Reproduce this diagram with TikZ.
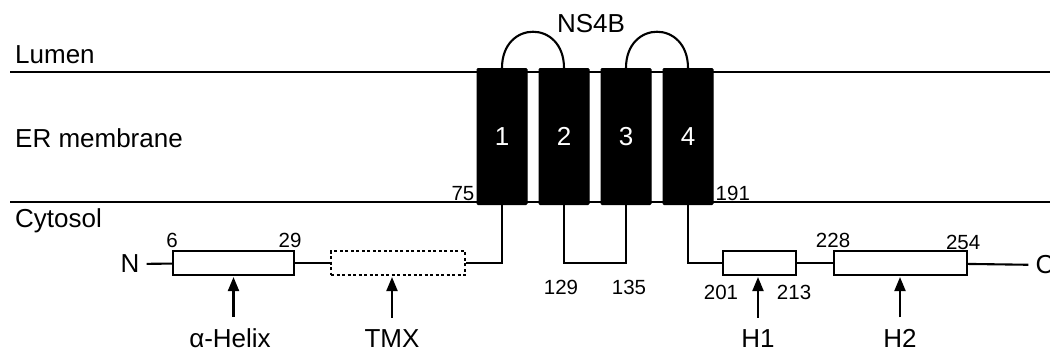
\documentclass[tikz,border=0pt]{standalone}
\usepackage{fontspec}
\setmainfont{Liberation Sans}
\usetikzlibrary{positioning,arrows.meta}

\begin{document}
\begin{tikzpicture}[x=1pt, y=1pt, font=\fontsize{26}{30}\selectfont, node distance=11pt and 11pt,
  membrane/.style={line width=2.6pt},
  tmbox/.style={fill=black, draw=black, line width=1pt, rounded corners=1pt, minimum width=50pt, minimum height=136pt, inner sep=0pt, text=white},
  helix/.style={draw=black, line width=2.1pt, fill=white, minimum height=24pt, inner sep=0pt},
  dashbox/.style={helix, dash pattern=on 3pt off 2.5pt},
  term/.style={inner xsep=7pt, inner ysep=2pt},
  conn/.style={line width=2.1pt},
  arr/.style={-{Triangle[length=14pt,width=11pt]}, line width=2.1pt, shorten <=8pt, shorten >=1pt},
  num/.style={font=\fontsize{20.5}{24}\selectfont, inner sep=2pt},
  region/.style={anchor=base west, inner sep=0pt}]
\useasboundingbox (0,0) rectangle (1050,-351);
% regions of the membrane
\draw[membrane] (10,-72) -- (1050,-72);
\draw[membrane] (10,-202) -- (1050,-202);
\node[region] (lumen) at (15,-63) {Lumen};
\node[region] (er) at (15,-147) {ER membrane};
\node[region] (cyto) at (15,-227) {Cytosol};
% transmembrane segments
\node[tmbox] (tm1) at (502,-136.5) {1};
\node[tmbox, right=of tm1] (tm2) {2};
\node[tmbox, right=of tm2] (tm3) {3};
\node[tmbox, right=of tm3] (tm4) {4};
\node[anchor=base] (ns4b) at (591,-32) {NS4B};
\draw[conn] (tm1.north) to[out=90, in=90, looseness=2] (tm2.north);
\draw[conn] (tm3.north) to[out=90, in=90, looseness=2] (tm4.north);
\node[num, anchor=south east, yshift=2pt] (n75) at (tm1.south west) {75};
\node[num, anchor=south west, yshift=2pt] (n191) at (tm4.south east) {191};
% cytosolic chain
\node[term] (nterm) at (130,-264) {N};
\node[helix, minimum width=121pt] (ahelix) at (233.5,-263) {};
\node[dashbox, minimum width=134pt, right=35pt of ahelix] (tmx) {};
\node[helix, minimum width=73pt] (h1) at (759.5,-263) {};
\node[helix, minimum width=133pt, right=36pt of h1] (h2) {};
\node[term] (cterm) at (1045,-265) {C};
\draw[conn] (nterm) -- (ahelix);
\draw[conn] (ahelix) -- (tmx);
\draw[conn] (tm1.south) |- (tmx.east);
\draw[conn] (tm2.south) |- (tm3.south |- tmx.east) -- (tm3.south);
\draw[conn] (tm4.south) |- (h1.west);
\draw[conn] (h1) -- (h2);
\draw[conn] (h2) -- (cterm);
% residue numbers
\node[num, above] (n6) at (ahelix.north west) {6};
\node[num, above, xshift=-5pt] (n29) at (ahelix.north east) {29};
\node[num, anchor=north, yshift=-2pt, xshift=-3pt] (n129) at (tm2.south |- tmx.south) {129};
\node[num, anchor=north, yshift=-2pt, xshift=3pt] (n135) at (tm3.south |- tmx.south) {135};
\node[num, below, yshift=-7pt, xshift=-1pt] (n201) at (h1.south west) {201};
\node[num, below, yshift=-7pt, xshift=-3pt] (n213) at (h1.south east) {213};
\node[num, above] (n228) at (h2.north west) {228};
\node[num, above, xshift=-5pt, yshift=-2pt] (n254) at (h2.north east) {254};
% helix labels
\node[anchor=base] (lhelix) at (230,-347) {α-Helix};
\node[anchor=base] (ltmx) at (392,-347) {TMX};
\node[anchor=base] (lh1) at (758,-347) {H1};
\node[anchor=base] (lh2) at (900,-347) {H2};
\draw[arr] (lhelix.north -| ahelix) -- (ahelix.south);
\draw[arr] (ltmx.north) -- (ltmx.north |- tmx.south);
\draw[arr] (lh1.north) -- (lh1.north |- h1.south);
\draw[arr] (lh2.north) -- (lh2.north |- h2.south);
\end{tikzpicture}
\end{document}
